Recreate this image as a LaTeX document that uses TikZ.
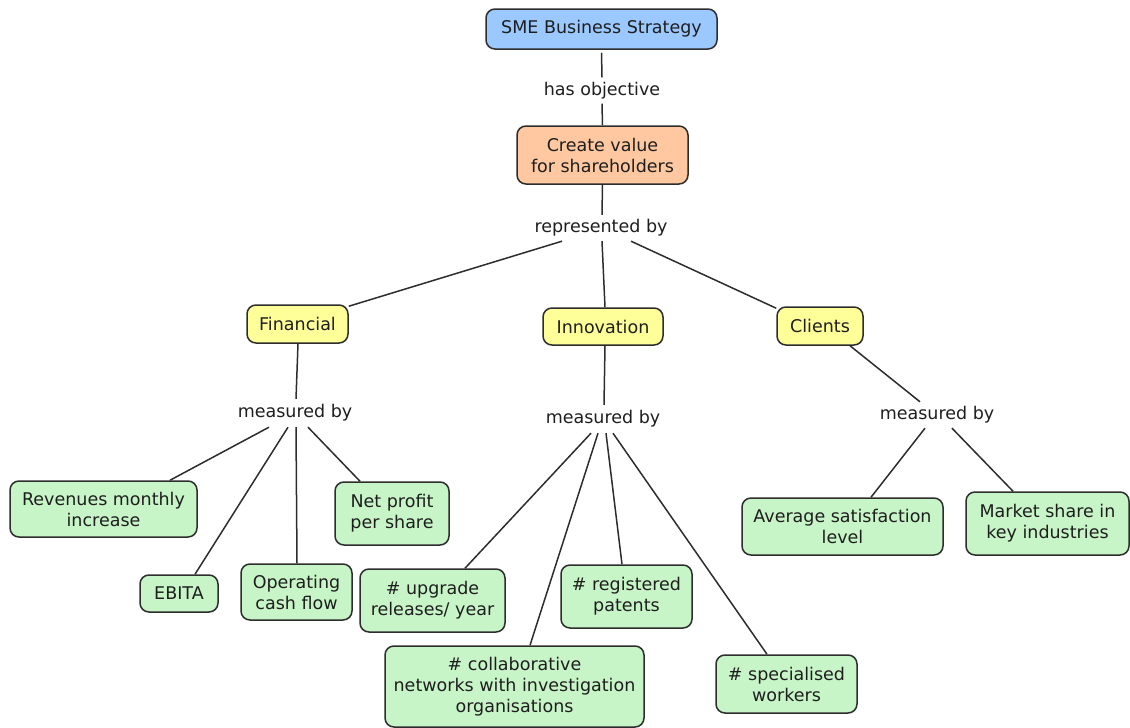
\documentclass[tikz,border=0pt]{standalone}
\usepackage{fontspec}
\setmainfont{DejaVu Sans}
\definecolor{skyblue}{RGB}{155,201,255}
\definecolor{peach}{RGB}{255,200,160}
\definecolor{lemon}{RGB}{255,255,153}
\definecolor{mint}{RGB}{200,245,200}
\definecolor{edge}{RGB}{45,45,45}
\definecolor{ink}{RGB}{30,30,30}
\begin{document}
\begin{tikzpicture}[x=1pt,y=-1pt,
  font=\fontsize{17.5}{21}\selectfont,
  concept/.style={draw=edge, line width=1.5pt, rounded corners=9pt,
    align=center, inner sep=0pt, text=ink},
  goal/.style={concept, fill=skyblue},
  valuebox/.style={concept, fill=peach},
  pillar/.style={concept, fill=lemon},
  metric/.style={concept, fill=mint},
  phrase/.style={inner sep=0pt, minimum height=#1, text=ink},
  link/.style={draw=edge, line width=1.5pt}]
\useasboundingbox (0,0) rectangle (1130,728);

% top of the map
\node[goal, minimum width=231pt, minimum height=40pt] (sme) at (601.5,29) {SME Business Strategy};
\node[phrase=26pt] (hasobj) at (602,90.5) {has objective};
\node[valuebox, minimum width=171pt, minimum height=58pt] (create) at (602.5,155) {Create value\\for shareholders};
\node[phrase=26pt] (repr) at (601,228) {represented by};

% the three perspectives
\node[pillar, minimum width=101pt, minimum height=38pt] (fin) at (297.5,324) {Financial};
\node[pillar, minimum width=120pt, minimum height=37pt] (inn) at (603,326.5) {Innovation};
\node[pillar, minimum width=86pt, minimum height=38pt] (cli) at (820,326) {Clients};

\node[phrase=28pt] (mfin) at (295,413) {measured by};
\node[phrase=28pt] (minn) at (603,419) {measured by};
\node[phrase=26pt] (mcli) at (937,415) {measured by};

% financial indicators
\node[metric, minimum width=187pt, minimum height=56pt] (rev) at (103.5,509) {Revenues monthly\\increase};
\node[metric, minimum width=78pt, minimum height=37pt] (ebita) at (179,593.5) {EBITA};
\node[metric, minimum width=111pt, minimum height=56pt] (opcash) at (296.5,592) {Operating\\cash flow};
\node[metric, minimum width=114pt, minimum height=63pt] (netp) at (392,513.5) {Net profit\\per share};

% innovation indicators
\node[metric, minimum width=145pt, minimum height=63pt] (upg) at (432.5,600.5) {\# upgrade\\releases/ year};
\node[metric, minimum width=259pt, minimum height=81pt] (collab) at (514.5,686.5) {\# collaborative\\networks with investigation\\organisations};
\node[metric, minimum width=131pt, minimum height=63pt] (reg) at (626.5,596.5) {\# registered\\patents};
\node[metric, minimum width=141pt, minimum height=58pt] (spec) at (786.5,684) {\# specialised\\workers};

% client indicators
\node[metric, minimum width=201pt, minimum height=57pt] (avg) at (842.5,526.5) {Average satisfaction\\level};
\node[metric, minimum width=163pt, minimum height=63pt] (mkt) at (1047.5,523.5) {Market share in\\key industries};

% connectors
\draw[link] ([yshift=-3pt]sme.south) -- (hasobj.north);
\draw[link] (hasobj.south) -- (create.north);
\draw[link] (create.south) -- ([xshift=1pt]repr.north);

\draw[link] ([xshift=-39pt]repr.south) -- ([yshift=-2pt]fin.north east);
\draw[link] ([xshift=1pt]repr.south) -- ([xshift=2pt]inn.north);
\draw[link] ([xshift=30pt]repr.south) -- ([yshift=-2pt]cli.north west);

\draw[link] ([xshift=0.5pt]fin.south) -- ([xshift=1pt]mfin.north);
\draw[link] ([xshift=2pt]inn.south) -- ([xshift=1pt]minn.north);
\draw[link] ([xshift=30pt]cli.south) -- ([xshift=-17pt]mcli.north);

\draw[link] ([xshift=-26pt]mfin.south) -- ([xshift=66.5pt]rev.north);
\draw[link] ([xshift=-7pt]mfin.south) -- ([xshift=16pt]ebita.north);
\draw[link] ([xshift=1pt]mfin.south) -- ([xshift=0.5pt]opcash.north);
\draw[link] ([xshift=13pt]mfin.south) -- ([xshift=-32pt]netp.north);

\draw[link] ([xshift=-12pt]minn.south) -- ([xshift=32.5pt]upg.north);
\draw[link] ([xshift=-5pt]minn.south) -- ([xshift=15.5pt]collab.north);
\draw[link] ([xshift=3pt]minn.south) -- ([xshift=-4.5pt]reg.north);
\draw[link] ([xshift=10pt]minn.south) -- ([xshift=-19.5pt]spec.north);

\draw[link] ([xshift=-12pt]mcli.south) -- ([xshift=28.5pt]avg.north);
\draw[link] ([xshift=15pt]mcli.south) -- ([xshift=-34.5pt]mkt.north);
\end{tikzpicture}
\end{document}
